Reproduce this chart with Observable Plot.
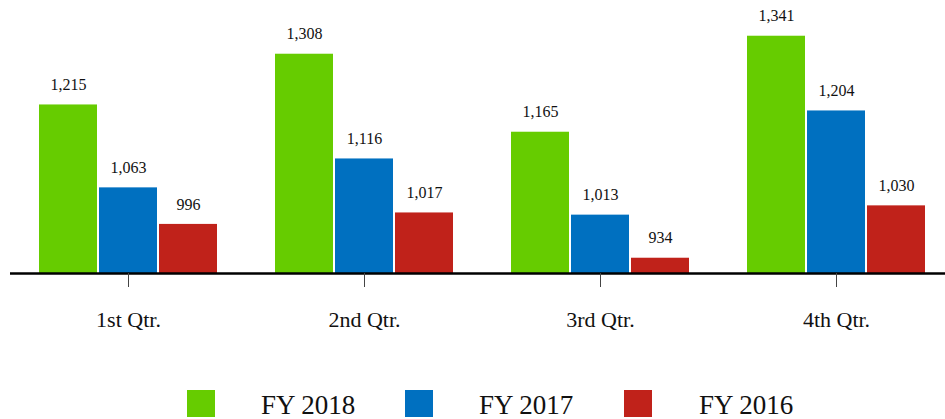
<!DOCTYPE html>
<html>
<head>
<meta charset="utf-8">
<script src="https://cdn.jsdelivr.net/npm/d3@7"></script>
<script src="https://cdn.jsdelivr.net/npm/@observablehq/plot@0.6"></script>
<style>
  html, body { margin: 0; padding: 0; background: #fff; overflow: hidden; }
  #chart svg { display: block; }
  #legend { position: relative; width: 945px; height: 74px; font-family: "Liberation Serif", serif; }
  .sw { position: absolute; width: 28px; height: 27px; top: 45px; }
  .lt { position: absolute; font-size: 27px; line-height: 27px; top: 47px; color: #111; white-space: nowrap; }
</style>
</head>
<body>
<div id="chart"></div>
<div id="legend"></div>
<script>
const quarters = ["1st Qtr.", "2nd Qtr.", "3rd Qtr.", "4th Qtr."];
const series = ["FY 2018", "FY 2017", "FY 2016"];
const fy2018 = [1215, 1308, 1165, 1341];
const fy2017 = [1063, 1116, 1013, 1204];
const fy2016 = [996, 1017, 934, 1030];
const colors = ["#66CC00", "#0070C0", "#C0221A"];

const seriesValues = [fy2018, fy2017, fy2016];
const data = [];
quarters.forEach((q, i) => {
  series.forEach((s, j) => data.push({quarter: q, series: s, value: seriesValues[j][i]}));
});

const base = 906;
const fmt = d3.format(",");

const chart = Plot.plot({
  width: 945,
  height: 345,
  marginTop: 3,
  marginBottom: 72,
  marginLeft: 9,
  marginRight: -9,
  style: {fontFamily: "Liberation Serif, serif", color: "#111", background: "#fff"},
  fx: {domain: quarters, padding: 0, label: null},
  x: {domain: series, paddingInner: 2 / 60, paddingOuter: 0.4833, axis: null},
  y: {domain: [base, 1401], axis: null},
  color: {domain: series, range: colors},
  marks: [
    Plot.barY(data, {fx: "quarter", x: "series", y1: base, y2: "value", fill: "series"}),
    Plot.text(data, {fx: "quarter", x: "series", y: "value", text: d => fmt(d.value), dy: -20, fontSize: 16, fill: "#111"}),
    Plot.ruleY([base], {stroke: "#000", strokeWidth: 2.5}),
    Plot.axisFx({anchor: "bottom", tickSize: 14, tickPadding: 24, fontSize: 22, stroke: "#444", fill: "#111", label: null})
  ]
});
document.getElementById("chart").appendChild(chart);

const legend = document.getElementById("legend");
const swLeft = [187, 405, 624];
const txLeft = [261, 479, 699];
series.forEach((s, i) => {
  const sw = document.createElement("div");
  sw.className = "sw";
  sw.style.left = swLeft[i] + "px";
  sw.style.background = colors[i];
  legend.appendChild(sw);
  const t = document.createElement("div");
  t.className = "lt";
  t.style.left = txLeft[i] + "px";
  t.textContent = s;
  legend.appendChild(t);
});
</script>
</body>
</html>
